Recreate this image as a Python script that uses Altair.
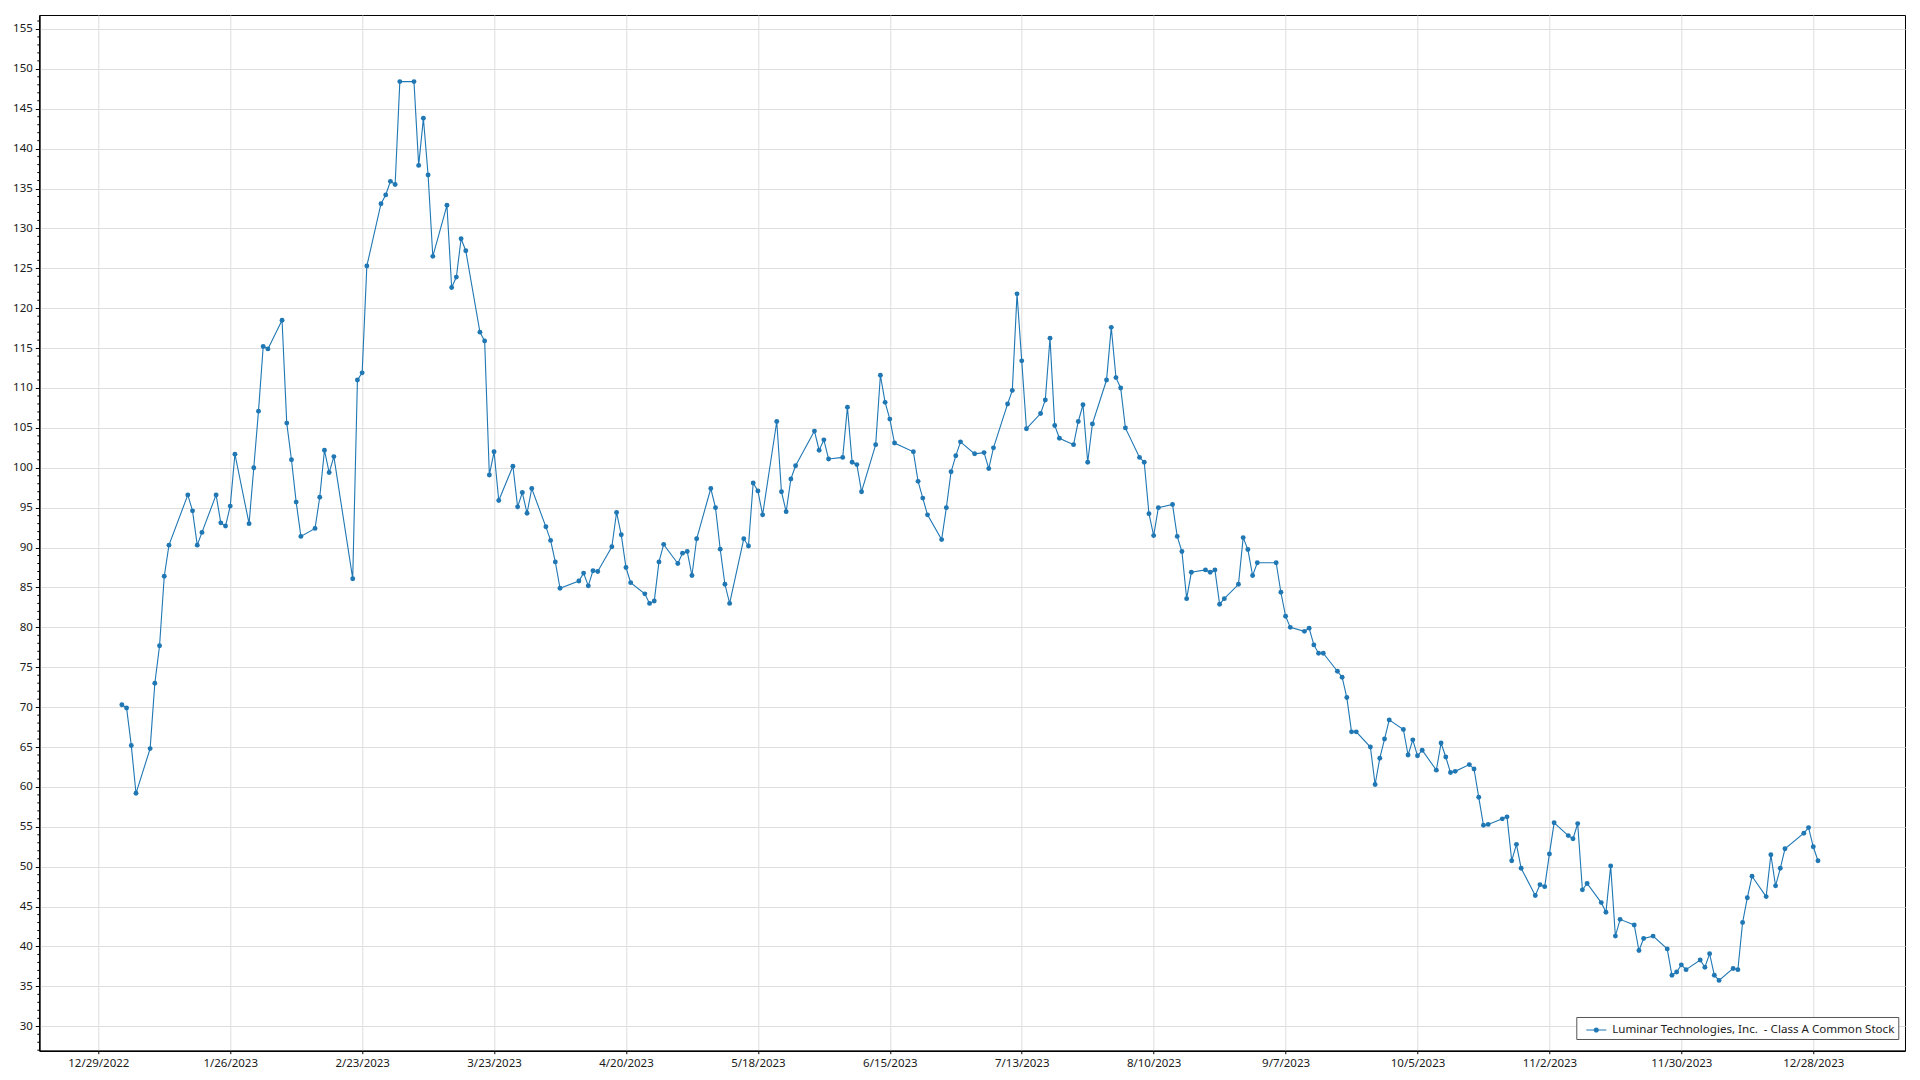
import altair as alt
import pandas as pd

# ---- data: 2023 trading days (day-of-month) and values, per month ----
jan_days = [3, 4, 5, 6, 9, 10, 11, 12, 13, 17, 18, 19, 20, 23, 24, 25, 26, 27, 30, 31]
jan_vals = [70.3, 69.9, 65.2, 59.2, 64.8, 73.0, 77.7, 86.4, 90.3, 96.6, 94.6, 90.3, 91.9, 96.6, 93.1, 92.7, 95.2, 101.7, 93.0, 100.0]
feb_days = [1, 2, 3, 6, 7, 8, 9, 10, 13, 14, 15, 16, 17, 21, 22, 23, 24, 27, 28]
feb_vals = [107.1, 115.2, 114.9, 118.5, 105.6, 101.0, 95.7, 91.4, 92.4, 96.3, 102.2, 99.4, 101.4, 86.1, 111.0, 111.9, 125.3, 133.1, 134.2]
mar_days = [1, 2, 3, 6, 7, 8, 9, 10, 13, 14, 15, 16, 17, 20, 21, 22, 23, 24, 27, 28, 29, 30, 31]
mar_vals = [135.9, 135.5, 148.4, 148.4, 137.9, 143.8, 136.7, 126.5, 132.9, 122.6, 123.9, 128.7, 127.2, 117.0, 115.9, 99.1, 102.0, 95.9, 100.2, 95.1, 96.9, 94.3, 97.4]
apr_days = [3, 4, 5, 6, 10, 11, 12, 13, 14, 17, 18, 19, 20, 21, 24, 25, 26, 27, 28]
apr_vals = [92.6, 90.9, 88.2, 84.9, 85.8, 86.8, 85.2, 87.1, 87.0, 90.1, 94.4, 91.6, 87.5, 85.6, 84.2, 83.0, 83.3, 88.2, 90.4]
may_days = [1, 2, 3, 4, 5, 8, 9, 10, 11, 12, 15, 16, 17, 18, 19, 22, 23, 24, 25, 26, 30, 31]
may_vals = [88.0, 89.3, 89.5, 86.5, 91.1, 97.4, 95.0, 89.8, 85.4, 83.0, 91.1, 90.2, 98.1, 97.1, 94.1, 105.8, 97.0, 94.5, 98.6, 100.25, 104.6, 102.2]
jun_days = [1, 2, 5, 6, 7, 8, 9, 12, 13, 14, 15, 16, 20, 21, 22, 23, 26, 27, 28, 29, 30]
jun_vals = [103.5, 101.1, 101.3, 107.6, 100.7, 100.4, 97.0, 102.9, 111.6, 108.2, 106.1, 103.1, 102.0, 98.3, 96.2, 94.1, 91.0, 95.0, 99.5, 101.5, 103.25]
jul_days = [3, 5, 6, 7, 10, 11, 12, 13, 14, 17, 18, 19, 20, 21, 24, 25, 26, 27, 28, 31]
jul_vals = [101.75, 101.9, 99.9, 102.5, 108.0, 109.7, 121.8, 113.4, 104.9, 106.8, 108.5, 116.25, 105.3, 103.7, 102.9, 105.8, 107.9, 100.7, 105.5, 111.0]
aug_days = [1, 2, 3, 4, 7, 8, 9, 10, 11, 14, 15, 16, 17, 18, 21, 22, 23, 24, 25, 28, 29, 30, 31]
aug_vals = [117.6, 111.3, 110.0, 105.0, 101.3, 100.7, 94.25, 91.5, 95.0, 95.4, 91.4, 89.5, 83.6, 86.9, 87.2, 86.9, 87.2, 82.9, 83.6, 85.4, 91.25, 89.75, 86.5]
sep_days = [1, 5, 6, 7, 8, 11, 12, 13, 14, 15, 18, 19, 20, 21, 22, 25, 26, 27, 28, 29]
sep_vals = [88.1, 88.1, 84.4, 81.4, 80.0, 79.5, 79.9, 77.8, 76.75, 76.75, 74.5, 73.75, 71.2, 66.9, 66.9, 65.0, 60.3, 63.6, 66.0, 68.4]
oct_days = [2, 3, 4, 5, 6, 9, 10, 11, 12, 13, 16, 17, 18, 19, 20, 23, 24, 25, 26, 27, 30, 31]
oct_vals = [67.2, 64.0, 65.9, 63.9, 64.6, 62.1, 65.5, 63.75, 61.8, 61.95, 62.8, 62.25, 58.7, 55.2, 55.3, 56.0, 56.25, 50.75, 52.8, 49.8, 46.4, 47.75]
nov_days = [1, 2, 3, 6, 7, 8, 9, 10, 13, 14, 15, 16, 17, 20, 21, 22, 24, 27, 28, 29, 30]
nov_vals = [47.5, 51.6, 55.5, 53.9, 53.5, 55.4, 47.1, 47.9, 45.5, 44.3, 50.1, 41.3, 43.4, 42.7, 39.5, 41.0, 41.3, 39.7, 36.4, 36.8, 37.7]
dec_days = [1, 4, 5, 6, 7, 8, 11, 12, 13, 14, 15, 18, 19, 20, 21, 22, 26, 27, 28, 29]
dec_vals = [37.1, 38.3, 37.4, 39.1, 36.4, 35.75, 37.25, 37.1, 43.0, 46.1, 48.8, 46.25, 51.5, 47.6, 49.8, 52.25, 54.2, 54.9, 52.5, 50.75]

series_name = "Luminar Technologies, Inc. \u00a0- Class A Common Stock"

x_tick_dates = ["2022-12-29", "2023-01-26", "2023-02-23", "2023-03-23", "2023-04-20",
                "2023-05-18", "2023-06-15", "2023-07-13", "2023-08-10", "2023-09-07",
                "2023-10-05", "2023-11-02", "2023-11-30", "2023-12-28"]
y_major_ticks = [30, 35, 40, 45, 50, 55, 60, 65, 70, 75, 80, 85, 90, 95, 100,
                 105, 110, 115, 120, 125, 130, 135, 140, 145, 150, 155]
y_minor_ticks = [v for v in range(27, 157) if v % 5 != 0]

# ---- build table ----
month_lists = [(1, jan_days, jan_vals), (2, feb_days, feb_vals), (3, mar_days, mar_vals),
               (4, apr_days, apr_vals), (5, may_days, may_vals), (6, jun_days, jun_vals),
               (7, jul_days, jul_vals), (8, aug_days, aug_vals), (9, sep_days, sep_vals),
               (10, oct_days, oct_vals), (11, nov_days, nov_vals), (12, dec_days, dec_vals)]
rows = []
for m, days, vals in month_lists:
    for d, v in zip(days, vals):
        rows.append({"date": f"2023-{m:02d}-{d:02d}T00:00:00", "value": v, "series": series_name})
df = pd.DataFrame(rows)
minor_df = pd.DataFrame({"value": y_minor_ticks})


def to_dt(s, hours=0, minutes=0):
    y, m, d = (int(p) for p in s.split("-"))
    return alt.DateTime(year=y, month=m, date=d, hours=hours, minutes=minutes)


x_domain = [to_dt("2022-12-16", 11, 30), to_dt("2024-01-16", 11, 15)]
x_values = [to_dt(s) for s in x_tick_dates]

FONT = "Noto Sans"
BLUE = "#1f77b4"

x_enc = alt.X("date:T",
              scale=alt.Scale(domain=x_domain),
              axis=alt.Axis(values=x_values, format="%-m/%-d/%Y", title=None,
                            tickSize=3, labelPadding=4, grid=True))
y_axis = alt.Axis(values=y_major_ticks, title=None, tickSize=4,
                  labelPadding=3, grid=True)
y_scale = alt.Scale(domain=[26.94, 156.75], nice=False, zero=False)
y_enc = alt.Y("value:Q", scale=y_scale, axis=y_axis)

line = alt.Chart(df).mark_line(color=BLUE, strokeWidth=1.1).encode(x=x_enc, y=y_enc)

sym_path = ("M-1,-0.06L1,-0.06L1,0.06L-1,0.06Z "
            "M0.26,0A0.26,0.26 0 1,1 -0.26,0A0.26,0.26 0 1,1 0.26,0Z")

points = alt.Chart(df).mark_circle(size=24, opacity=1).encode(
    x=x_enc, y=y_enc,
    color=alt.Color("series:N", scale=alt.Scale(range=[BLUE]),
                    legend=alt.Legend(title=None, orient="none", legendX=1537, legendY=1002,
                                      symbolType=sym_path, symbolSize=400,
                                      symbolStrokeWidth=0, symbolOffset=7,
                                      labelOffset=6, labelFontSize=11.6, labelFont=FONT,
                                      labelColor="#222222", labelLimit=500,
                                      padding=3, strokeColor="#555555",
                                      fillColor="white", cornerRadius=0))
)

minor = alt.Chart(minor_df).mark_rule(color="black", strokeWidth=1).encode(
    y=y_enc,
    x=alt.value(-2), x2=alt.value(0)
)

chart = alt.layer(line, points, minor).properties(
    width=1865.7, height=1035.7,
    autosize=alt.AutoSizeParams(type="none"),
    padding={"left": 31.3, "top": 7, "right": 7, "bottom": 25}
).configure_view(
    stroke="black", strokeWidth=1
).configure_axis(
    labelFont=FONT, labelFontSize=11.5, labelColor="#1a1a1a",
    domainColor="black", domainWidth=1.5, tickColor="black", tickWidth=1,
    gridColor="#dedede", gridWidth=1
).configure_legend(
    labelFont=FONT
)

chart.save("out.html", embed_options={"renderer": "svg", "actions": False})
